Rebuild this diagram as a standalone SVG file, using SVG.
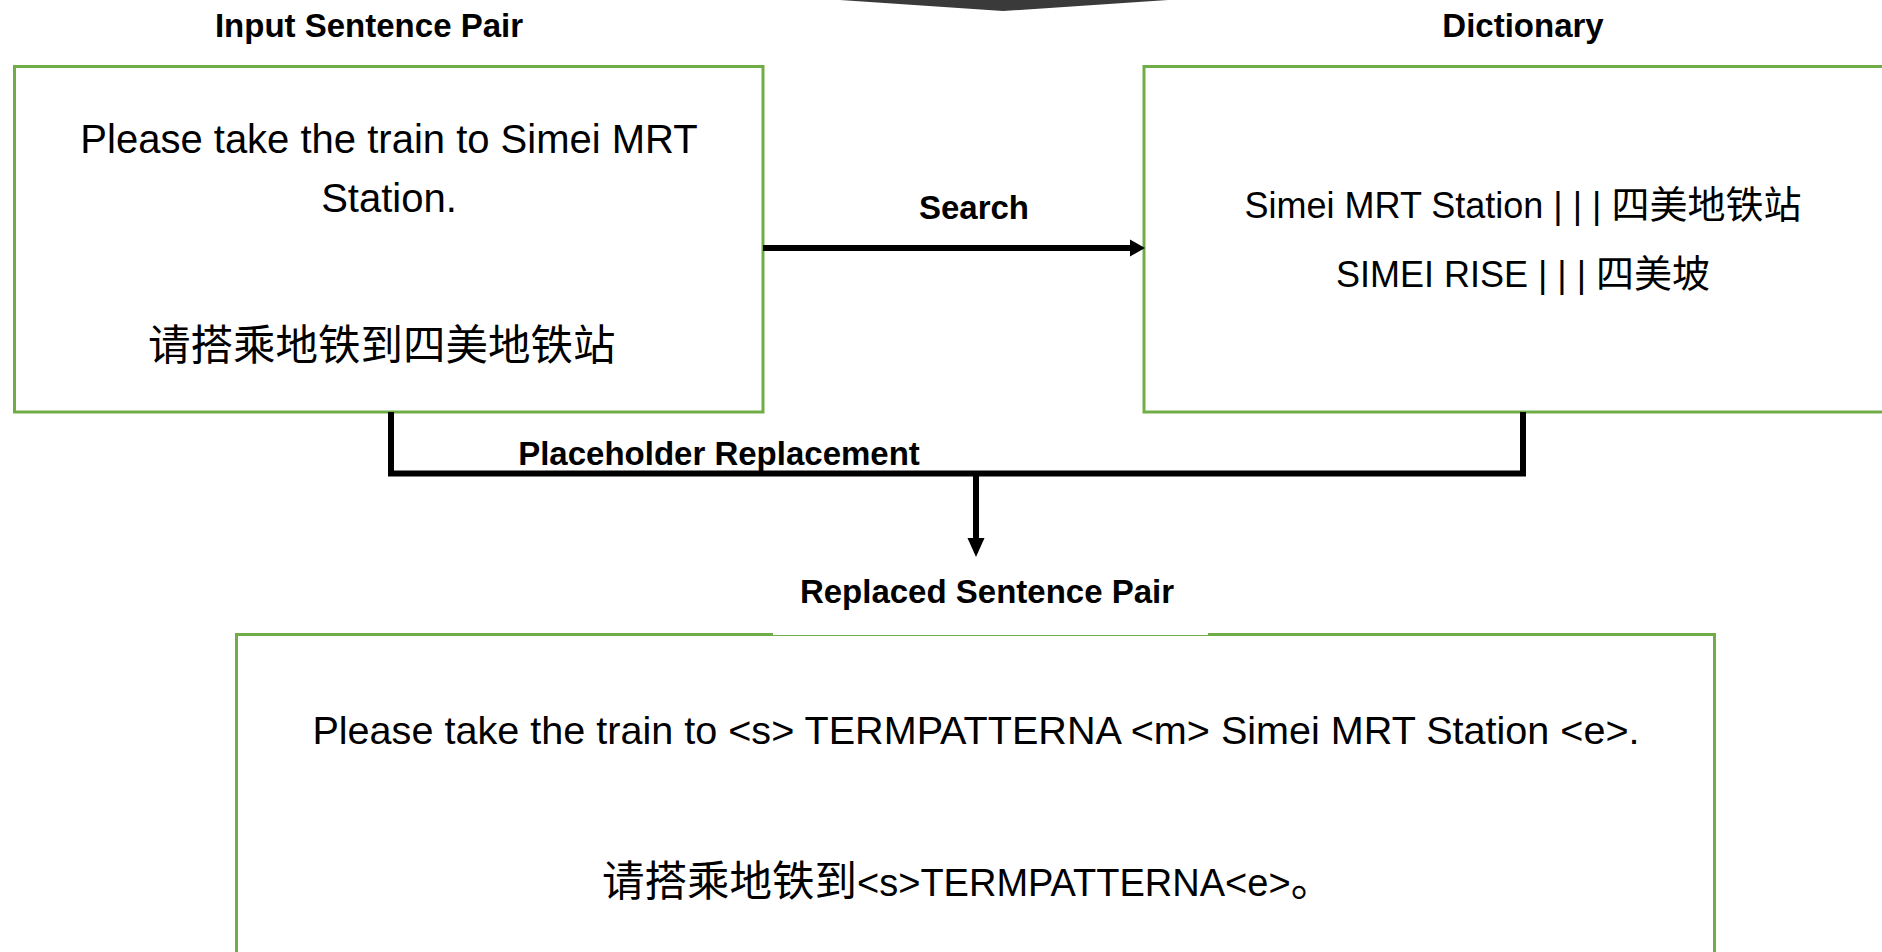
<svg xmlns="http://www.w3.org/2000/svg" width="1882" height="952" viewBox="0 0 1882 952">
<style>
.box{fill:#ffffff;stroke:#70ad47;stroke-width:3}
.lbl{font-family:"Liberation Sans","Noto Sans CJK SC",sans-serif;font-weight:bold;font-size:33px;fill:#000;text-anchor:middle}
.txt{font-family:"Liberation Sans","Noto Sans CJK SC",sans-serif;fill:#000}
.mid{text-anchor:middle}
.cjk{font-family:"Noto Sans CJK SC",sans-serif}
.conn{fill:none;stroke:#000;stroke-width:6}
.head{fill:#000;stroke:none}
</style>
<rect x="0" y="0" width="1882" height="952" fill="#ffffff"/>
<polygon id="top-shape" points="840,0 1003,11 1168,0" fill="#3a3a3a"/>

<g id="input-pair">
  <rect class="box" x="14.5" y="66.5" width="748.5" height="345.5"/>
  <text class="lbl" x="369" y="37">Input Sentence Pair</text>
  <text class="txt mid" x="389" y="153" font-size="40">Please take the train to Simei MRT</text>
  <text class="txt mid" x="389" y="212" font-size="40">Station.</text>
  <text class="txt cjk" x="148" y="360" font-size="42.5">请搭乘地铁到四美地铁站</text>
</g>

<g id="dictionary">
  <rect class="box" x="1144" y="66.5" width="800" height="345.5"/>
  <text class="lbl" x="1523" y="37">Dictionary</text>
  <text class="txt mid" x="1523" y="218" font-size="36">Simei MRT Station | | | <tspan class="cjk" font-size="38">四美地铁站</tspan></text>
  <text class="txt mid" x="1523" y="287" font-size="36">SIMEI RISE | | | <tspan class="cjk" font-size="38">四美坡</tspan></text>
</g>

<g id="replaced-pair">
  <rect class="box" x="236.5" y="634.5" width="1478" height="340"/>
  <rect x="773" y="620" width="435" height="15" fill="#ffffff"/>
  <text class="lbl" x="987" y="603">Replaced Sentence Pair</text>
  <text class="txt mid" x="976" y="744" font-size="39.6">Please take the train to &lt;s&gt; TERMPATTERNA &lt;m&gt; Simei MRT Station &lt;e&gt;.</text>
  <text class="txt" x="602" y="896"><tspan class="cjk" font-size="42.5">请搭乘地铁到</tspan><tspan font-size="38">&lt;s&gt;TERMPATTERNA&lt;e&gt;</tspan><tspan class="cjk" font-size="42.5">。</tspan></text>
</g>

<g id="connectors">
  <line class="conn" x1="763" y1="248" x2="1131" y2="248"/>
  <polygon class="head" points="1130,239.5 1145,248 1130,256.5"/>
  <text class="lbl" x="974" y="219">Search</text>
  <path class="conn" d="M391,412 V473.5 H1523 V412"/>
  <line class="conn" x1="976" y1="473" x2="976" y2="540"/>
  <polygon class="head" points="967.5,538 984.5,538 976,557"/>
  <text class="lbl" x="719" y="465">Placeholder Replacement</text>
</g>
</svg>
